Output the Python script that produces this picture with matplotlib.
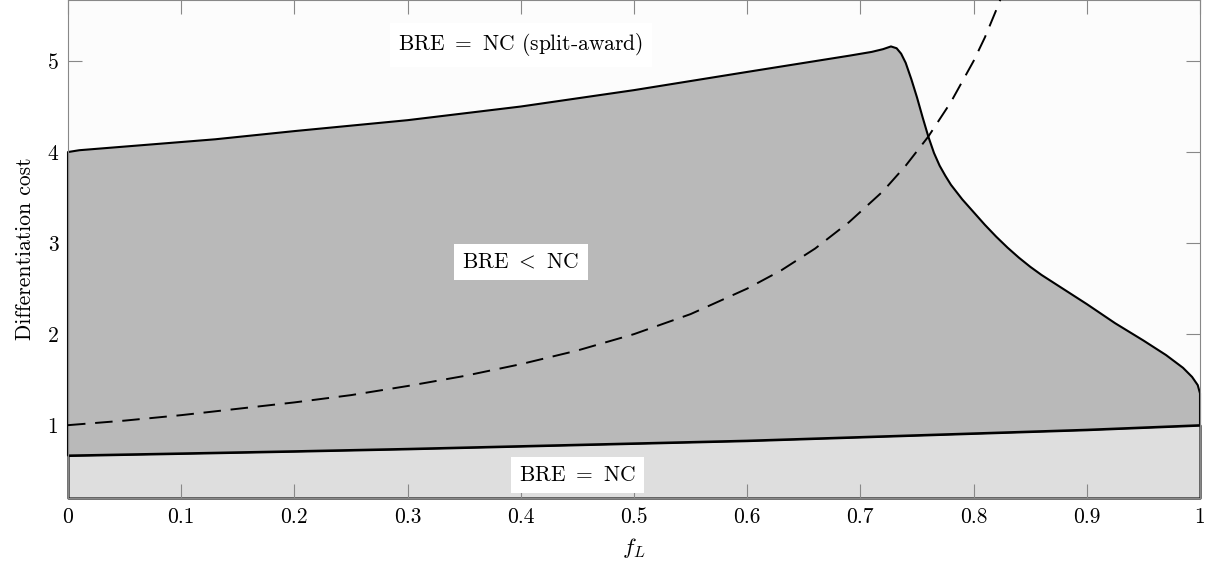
import matplotlib as mplt
mplt.use('Agg')
import matplotlib.pyplot as plt

plt.rcParams['font.family'] = 'serif'
plt.rcParams['font.serif'] = ['cmr10']
plt.rcParams['mathtext.fontset'] = 'cm'
plt.rcParams['axes.formatter.use_mathtext'] = True

# lower boundary (BRE = NC / BRE < NC)
low_x = [0.0, 0.1, 0.2, 0.3, 0.4, 0.5, 0.6, 0.7, 0.8, 0.9, 1.0]
low_y = [0.667, 0.69, 0.714, 0.74, 0.77, 0.80, 0.83, 0.87, 0.91, 0.95, 1.0]

# upper boundary (BRE < NC / split-award)
up_x = [0.0, 0.01, 0.1, 0.13, 0.2, 0.3, 0.4, 0.5, 0.6, 0.691, 0.71, 0.72, 0.727,
        0.732, 0.736, 0.74, 0.745, 0.75, 0.755, 0.76, 0.765, 0.77, 0.775, 0.78,
        0.79, 0.8, 0.81, 0.82, 0.83, 0.84, 0.85, 0.86, 0.875, 0.9, 0.925, 0.95,
        0.97, 0.985, 0.993, 0.998, 1.0, 1.0]
up_y = [4.0, 4.02, 4.11, 4.14, 4.23, 4.35, 4.5, 4.68, 4.88, 5.06, 5.1, 5.13, 5.16,
        5.14, 5.08, 4.98, 4.8, 4.6, 4.38, 4.17, 3.99, 3.85, 3.74, 3.64,
        3.48, 3.34, 3.2, 3.07, 2.95, 2.84, 2.74, 2.65, 2.53, 2.33, 2.12, 1.93,
        1.77, 1.63, 1.53, 1.44, 1.35, 1.0]

# dashed curve
dash_x = [0.0, 0.05, 0.1, 0.15, 0.2, 0.25, 0.3, 0.35, 0.4, 0.45, 0.5, 0.55, 0.6,
          0.63, 0.66, 0.69, 0.72, 0.74, 0.76, 0.78, 0.8, 0.81, 0.82, 0.83]
dash_y = [1.0, 1.05, 1.11, 1.18, 1.25, 1.33, 1.43, 1.54, 1.67, 1.82, 2.0, 2.22, 2.5,
          2.7, 2.94, 3.23, 3.57, 3.85, 4.17, 4.55, 5.0, 5.26, 5.56, 5.88]

x_ticks = [0, 0.1, 0.2, 0.3, 0.4, 0.5, 0.6, 0.7, 0.8, 0.9, 1]
x_labels = ['0', '0.1', '0.2', '0.3', '0.4', '0.5', '0.6', '0.7', '0.8', '0.9', '1']
y_ticks = [1, 2, 3, 4, 5]

labels = ['BRE $=$ NC (split-award)', 'BRE $<$ NC', 'BRE $=$ NC']
label_x = [0.40, 0.40, 0.45]
label_y = [5.18, 2.79, 0.45]

ymin, ymax = 0.2, 5.67

fig = plt.figure(figsize=(12.12, 5.73), dpi=100)
ax = fig.add_axes([68 / 1212, 75 / 573, 1132 / 1212, 498 / 573])
ax.set_facecolor('#fcfcfc')
ax.set_xlim(0, 1)
ax.set_ylim(ymin, ymax)

# regions
ax.fill_between(low_x, ymin, low_y, facecolor='#dedede', edgecolor='black',
                linewidth=1.5, clip_on=False, zorder=1)
poly_x = up_x + low_x[::-1]
poly_y = up_y + low_y[::-1]
ax.fill(poly_x, poly_y, facecolor='#b9b9b9', edgecolor='black',
        linewidth=1.5, clip_on=False, zorder=2, joinstyle='round')

ax.plot(dash_x, dash_y, color='black', linewidth=1.4, linestyle=(0, (9, 5)), zorder=3)

for s in ax.spines.values():
    s.set_color('#888888')
    s.set_linewidth(0.8)

ax.set_xticks(x_ticks)
ax.set_xticklabels(x_labels)
ax.set_yticks(y_ticks)
ax.set_yticklabels([str(v) for v in y_ticks])
ax.tick_params(direction='in', length=10, width=0.8, color='#888888',
               top=True, right=True, labelsize=15.5, pad=7)

for t, tx, ty in zip(labels, label_x, label_y):
    ax.text(tx, ty, t, ha='center', va='center', fontsize=15.5, zorder=5,
            bbox=dict(facecolor='white', edgecolor='none', pad=6))

ax.set_xlabel('$f_L$', fontsize=16.5, labelpad=6)
ax.set_ylabel('Differentiation cost', fontsize=15.5, labelpad=9)

plt.savefig('out.png', dpi=100)
